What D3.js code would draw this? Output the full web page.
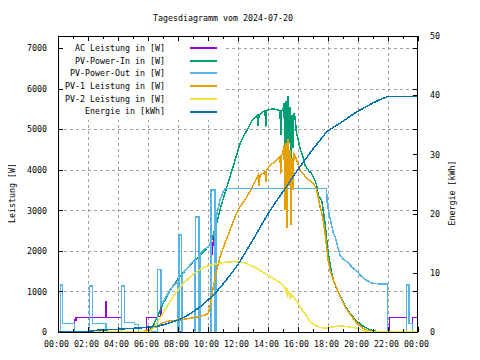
<!DOCTYPE html>
<html><head><meta charset="utf-8">
<script src="https://cdn.jsdelivr.net/npm/d3@7"></script>
<style>
html,body{margin:0;padding:0;background:#fff;}
svg{display:block;}
text{font-family:"DejaVu Sans Mono",monospace;font-size:8.3px;fill:#000;}
</style></head>
<body>
<script>
// ---------- data (hour of day, value) ----------
const titleText = "Tagesdiagramm vom 2024-07-20";
const xTickHours = [0,2,4,6,8,10,12,14,16,18,20,22,24];
const yTicks = [0,1000,2000,3000,4000,5000,6000,7000];
const y2Ticks = [0,10,20,30,40,50];
const seriesNames = ["AC Leistung in [W]","PV-Power-In in [W]","PV-Power-Out in [W]","PV-1 Leistung in [W]","PV-2 Leistung in [W]","Energie in [kWh]"];
const seriesColors = ["#9400d3","#009e73","#56b4e9","#e69f00","#f0e442","#0072b2"];

const acPower = [[0,0],[1.09,0],[1.09,300],[1.2,300],[1.2,361],[3.2,361],[3.2,746],[3.21,746],[3.21,361],[4.24,361],[4.24,0],
 [5.91,0],[5.91,361],[6.64,361],[6.64,380],[6.87,380],[6.87,665],[7.1,800],[7.4,1000],[7.7,1150],[8.0,1230],[8.0,0],[8.27,0],[8.27,1420],
 [8.5,1530],[8.8,1650],[9.1,1780],[9.1,380],[9.45,380],[9.45,1940],[9.8,2050],[10.15,2150],[10.15,1750],[10.25,1900],[10.53,2800],[10.8,3250],[11.0,3450],[11.13,3540],
 [17.9,3540],[17.95,3180],[18.05,2950],[18.2,2700],[18.35,2450],[18.5,2330],[18.65,2100],[18.8,1900],[19.0,1800],[19.3,1720],
 [19.6,1600],[19.9,1500],[20.2,1380],[20.5,1290],[20.8,1230],[21.0,1200],[21.5,1185],[21.96,1180],[21.96,0],[22.1,0],[22.1,361],
 [23.24,361],[23.24,0],[23.64,0],[23.64,361],[24,361]];

const pvPowerIn = [[0,0],[6.1,0],[6.13,30],[6.4,200],[6.6,350],[7.0,700],[7.3,900],[7.5,1040],[8.1,1360],[8.5,1520],[9.0,1730],
 [9.5,1900],[10.1,2140],[10.3,2320],[10.6,2720],[10.9,3150],[11.13,3420],[11.4,3750],[11.6,3990],[11.8,4230],[12.0,4480],
 [12.2,4700],[12.4,4850],[12.6,4975],[12.8,5120],[13.0,5250],[13.2,5300],[13.3,5340],[13.35,5080],[13.4,5350],[13.6,5420],
 [13.8,5450],[13.85,5060],[13.9,5460],[14.1,5490],[14.4,5500],[14.6,5480],[14.8,5460],[14.85,4850],[14.9,5450],[15.0,5480],
 [15.07,5650],[15.13,4050],[15.2,5700],[15.27,3700],[15.33,5830],[15.4,4650],[15.47,5550],[15.53,3700],[15.6,5350],[15.67,4550],
 [15.73,5400],[15.8,5300],[15.9,4900],[16.0,4770],[16.13,4530],[16.36,4285],[16.47,4113],[16.7,3980],[16.91,3908],[17.02,3826],
 [17.13,3744],[17.24,3620],[17.36,3374],[17.47,3300],[17.58,3250],[17.7,2950],[17.8,2700],[17.91,2300],[18.0,2000],[18.1,1750],
 [18.2,1550],[18.35,1300],[18.55,1100],[18.8,900],[19.0,740],[19.2,600],[19.45,470],[19.75,330],[20.1,210],[20.4,130],
 [20.75,66],[21.1,25],[21.4,0],[24,0]];

const pvPowerOut = [[0,0],[0.18,0],[0.18,1160],[0.31,1160],[0.31,214],[1.09,214],[1.09,0],
 [2.09,0],[2.09,1135],[2.31,1135],[2.31,214],[3.2,214],[3.2,0],
 [4.24,0],[4.24,1135],[4.42,1135],[4.42,230],[5.09,230],[5.09,190],[5.38,190],[5.38,0],
 [6.64,0],[6.64,1544],[6.87,1544],[6.87,665],[7.1,800],[7.4,1000],[7.7,1150],[8.0,1230],[8.0,0],[8.05,0],[8.05,2390],[8.22,2390],
 [8.22,0],[8.27,0],[8.27,1420],[8.5,1530],[8.8,1650],[9.1,1780],[9.1,0],[9.15,0],[9.15,2840],[9.4,2840],[9.4,0],[9.45,0],
 [9.45,1940],[9.8,2050],[10.15,2150],[10.15,0],[10.2,0],[10.2,3500],[10.48,3500],[10.48,0],[10.53,0],[10.53,2800],[10.8,3250],
 [11.0,3450],[11.13,3540],[17.9,3540],[17.95,3180],[18.05,2950],[18.2,2700],[18.35,2450],[18.5,2330],[18.65,2100],[18.8,1900],
 [19.0,1800],[19.3,1720],[19.6,1600],[19.9,1500],[20.2,1380],[20.5,1290],[20.8,1230],[21.0,1200],[21.5,1185],[21.96,1180],
 [21.96,0],[23.24,0],[23.24,1158],[23.39,1158],[23.39,214],[23.64,214],[23.64,0],[24,0]];

const pv1Power = [[0,0],[5.3,0],[5.76,20],[6.13,60],[6.58,131],[7.02,230],[7.47,280],[8.13,296],[8.8,337],[9.36,377],[9.8,419],
 [10.02,460],[10.13,624],[10.24,870],[10.36,1116],[10.58,1527],[10.8,1855],[11.13,2184],[11.47,2512],[11.8,2840],[12.13,3086],
 [12.47,3260],[12.8,3470],[13.13,3702],[13.35,3860],[13.4,3600],[13.47,3867],[13.8,3949],[13.85,3700],[13.9,3980],[14.13,4113],
 [14.47,4195],[14.8,4318],[14.85,3900],[14.9,4350],[15.0,4440],[15.07,4600],[15.13,3000],[15.2,4650],[15.27,2560],[15.33,4750],
 [15.4,3600],[15.47,4500],[15.53,2640],[15.6,4300],[15.67,3500],[15.73,4400],[15.8,4360],[15.91,4236],[16.13,4000],[16.35,3900],
 [16.6,3780],[16.91,3700],[17.1,3620],[17.24,3500],[17.36,3300],[17.47,3086],[17.58,2950],[17.7,2700],[17.8,2450],[17.91,2100],
 [18.0,1800],[18.13,1530],[18.35,1280],[18.58,1080],[18.9,800],[19.2,580],[19.55,400],[19.9,230],[20.3,100],[20.6,40],
 [21.0,10],[21.3,0],[24,0]];

const pv2Power = [[0,0],[6.13,0],[6.4,120],[6.58,214],[6.8,337],[7.13,542],[7.47,747],[7.91,993],[8.36,1200],[9.02,1429],
 [9.69,1593],[10.36,1667],[11.02,1716],[11.69,1735],[12.36,1716],[12.8,1650],[13.3,1560],[13.8,1440],[14.3,1330],[14.8,1220],
 [15.1,1120],[15.2,1000],[15.25,1080],[15.3,850],[15.35,1000],[15.45,950],[15.5,780],[15.55,920],[15.7,860],[16.0,720],
 [16.13,600],[16.47,460],[16.8,254],[17.13,172],[17.47,115],[17.8,90],[18.13,110],[18.5,140],[18.9,148],[19.3,130],
 [19.7,110],[20.0,80],[20.3,40],[20.7,10],[21.0,0],[24,0]];

const energy = [[0,0],[1.0,0.05],[2.1,0.1],[2.6,0.3],[4.0,0.45],[4.5,0.55],[5.5,0.7],[6.13,0.85],[6.7,1.0],[7.0,1.2],[7.5,1.6],
 [8.0,2.0],[8.5,2.6],[9.0,3.4],[9.5,4.3],[10.0,5.4],[10.5,6.6],[11.0,8.1],[11.5,9.7],[12.0,11.4],[12.5,13.45],[13.0,15.6],
 [13.5,17.8],[14.07,20.24],[14.5,21.9],[15.0,23.7],[15.5,25.6],[15.87,27.0],[16.5,29.2],[17.0,30.9],[17.5,32.5],[17.9,33.8],
 [18.3,34.5],[18.69,35.1],[19.0,35.6],[19.5,36.5],[20.0,37.3],[20.5,38.0],[21.0,38.7],[21.5,39.3],[22.0,39.8],[24,39.8]];

// ---------- layout ----------
const W = 480, H = 360;
const L = 58, R = 418, T = 36, B = 332;

const svg = d3.select("body").append("svg").attr("width", W).attr("height", H);

const x = d3.scaleLinear().domain([0, 24]).range([L, R]);
const y = d3.scaleLinear().domain([0, 7300]).range([B, T]);
const y2 = d3.scaleLinear().domain([0, 50]).range([B, T]);

// grid
const grid = svg.append("g").attr("stroke", "#a0a0a0").attr("stroke-width", 1).attr("stroke-dasharray", "3,3").attr("shape-rendering", "crispEdges");
grid.selectAll("line.v").data(xTickHours.filter(h => h > 0 && h < 24)).join("line")
  .attr("x1", d => Math.round(x(d)) + 0.5).attr("x2", d => Math.round(x(d)) + 0.5).attr("y1", B).attr("y2", T);
grid.selectAll("line.h").data(yTicks.filter(v => v > 0)).join("line").attr("class", "h")
  .attr("y1", d => Math.round(y(d)) + 0.5).attr("y2", d => Math.round(y(d)) + 0.5).attr("x1", L).attr("x2", R);

// legend background (opaque key)
svg.append("rect").attr("x", L + 1).attr("y", T + 1).attr("width", 166).attr("height", 83).attr("fill", "#fff");

// lines
const line = (sc) => d3.line().x(d => x(d[0])).y(d => sc(d[1]));
const allSeries = [acPower, pvPowerIn, pvPowerOut, pv1Power, pv2Power, energy];
allSeries.forEach((s, i) => {
  svg.append("path").datum(s).attr("fill", "none").attr("stroke", seriesColors[i])
    .attr("stroke-width", 1.5).attr("stroke-linejoin", "miter").attr("shape-rendering", "crispEdges")
    .attr("d", line(i === 5 ? y2 : y));
});

// axes
const fmtH = h => String(h % 24).padStart(2, "0") + ":00";
const xAxis = svg.append("g").attr("transform", `translate(0,${B})`)
  .call(d3.axisBottom(x).tickValues(xTickHours).tickFormat(fmtH).tickSizeInner(-5).tickSizeOuter(0).tickPadding(9));
const xAxisMinor = svg.append("g").attr("transform", `translate(0,${B})`)
  .call(d3.axisBottom(x).tickValues(d3.range(1, 24, 2)).tickFormat("").tickSizeInner(-3).tickSizeOuter(0));
const xTop = svg.append("g").attr("transform", `translate(0,${T})`)
  .call(d3.axisTop(x).tickValues(xTickHours).tickFormat("").tickSizeInner(-5).tickSizeOuter(0));
const xTopMinor = svg.append("g").attr("transform", `translate(0,${T})`)
  .call(d3.axisTop(x).tickValues(d3.range(1, 24, 2)).tickFormat("").tickSizeInner(-3).tickSizeOuter(0));
const yAxis = svg.append("g").attr("transform", `translate(${L},0)`)
  .call(d3.axisLeft(y).tickValues(yTicks).tickFormat(d3.format("d")).tickSizeInner(-5).tickSizeOuter(0).tickPadding(11));
const yMirror = svg.append("g").attr("transform", `translate(${R},0)`)
  .call(d3.axisRight(y).tickValues(yTicks).tickFormat("").tickSizeInner(-5).tickSizeOuter(0));
const y2Axis = svg.append("g").attr("transform", `translate(${R},0)`)
  .call(d3.axisRight(y2).tickValues(y2Ticks).tickFormat(d3.format("d")).tickSizeInner(-5).tickSizeOuter(0).tickPadding(12));

[xAxis, xAxisMinor, xTop, xTopMinor, yAxis, yMirror, y2Axis].forEach(g => {
  g.select(".domain").remove();
  g.selectAll("line").attr("stroke", "#000").attr("shape-rendering", "crispEdges");
  g.selectAll("text").attr("font-family", "DejaVu Sans Mono").attr("font-size", "8.3px").attr("fill", "#000");
});
xAxis.selectAll("text").attr("dx", "-2px");

// frame
svg.append("rect").attr("x", L + 0.5).attr("y", T + 0.5).attr("width", R - L - 1).attr("height", B - T)
  .attr("fill", "none").attr("stroke", "#000").attr("stroke-width", 1).attr("shape-rendering", "crispEdges");

// legend
const key = svg.append("g");
seriesNames.forEach((n, i) => {
  const yy = 48 + i * 12.7;
  key.append("text").attr("x", 165).attr("y", yy).attr("dy", "0.35em").attr("text-anchor", "end").text(n);
  key.append("line").attr("x1", 190).attr("x2", 217).attr("y1", Math.round(yy)).attr("y2", Math.round(yy))
    .attr("stroke", seriesColors[i]).attr("stroke-width", 2).attr("shape-rendering", "crispEdges");
});

// title and axis labels
svg.append("text").attr("x", 223).attr("y", 18).attr("dy", "0.35em").attr("text-anchor", "middle").text(titleText);
svg.append("text").attr("transform", "translate(12,193) rotate(-90)").attr("dy", "0.35em").attr("text-anchor", "middle").text("Leistung [W]");
svg.append("text").attr("transform", "translate(452,193) rotate(-90)").attr("dy", "0.35em").attr("text-anchor", "middle").text("Energie [kWh]");
</script>
</body></html>
